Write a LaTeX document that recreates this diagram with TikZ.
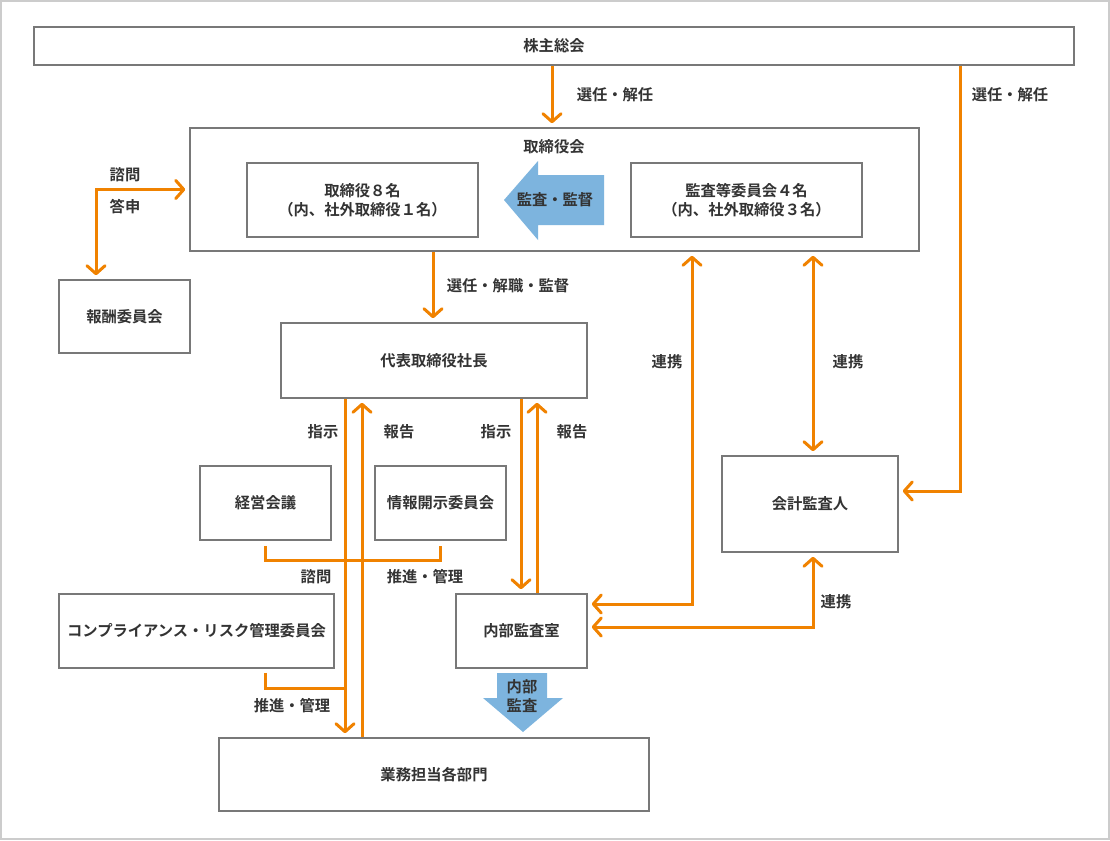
\documentclass[tikz,border=0pt]{standalone}
\usepackage{fontspec}
\setmainfont{Noto Sans CJK JP}[BoldFont={Noto Sans CJK JP Bold}]
\usetikzlibrary{arrows.meta, calc}

\definecolor{orgline}{RGB}{240,130,0}
\definecolor{bluearrow}{RGB}{125,180,222}
\definecolor{boxgray}{RGB}{120,120,120}
\definecolor{txtgray}{RGB}{51,51,51}
\definecolor{framegray}{RGB}{204,204,204}

\tikzset{
  box/.style={draw=boxgray, line width=1.5pt, fill=white, inner sep=0pt, align=center},
  line/.style={orgline, line width=3pt},
  arr/.style={line, -{Straight Barb[length=8pt,width=18pt,round]}, shorten >=4pt},
  dbl/.style={line, {Straight Barb[length=8pt,width=18pt,round]}-{Straight Barb[length=8pt,width=18pt,round]}, shorten >=4pt, shorten <=4pt},
  lbl/.style={text=txtgray, inner sep=0pt},
}

\begin{document}
\begin{tikzpicture}[x=1pt, y=-1pt, font=\fontsize{15.3}{19.5}\selectfont\bfseries, text=txtgray]
        \useasboundingbox (0,0) rectangle (1110,840);
        \draw[framegray, line width=2pt] (1,1) rectangle (1109,839);

        % columns of the connectors
        \coordinate (c96) at (96,0);
        \coordinate (c265) at (265,0);
        \coordinate (c345) at (345,0);
        \coordinate (c362) at (362,0);
        \coordinate (c433) at (433,0);
        \coordinate (c521) at (521,0);
        \coordinate (c537) at (537,0);
        \coordinate (c552) at (552,0);
        \coordinate (c692) at (692,0);
        \coordinate (c813) at (813,0);
        \coordinate (c960) at (960,0);

        % boxes
        \node[box, minimum width=1040pt, minimum height=38pt] (meeting) at (554,46) {株主総会};
        \node[box, minimum width=729pt, minimum height=123pt] (board) at (554.5,189.5) {};
        \node[lbl] (boardtitle) at (554,147) {取締役会};
        \node[box, minimum width=231pt, minimum height=74pt] (directors) at (362.5,200) {取締役８名\\（内、社外取締役１名）};
        \node[box, minimum width=231pt, minimum height=74pt] (audit) at (746.5,200) {監査等委員会４名\\（内、社外取締役３名）};
        \node[box, minimum width=131pt, minimum height=73pt] (reward) at (124.5,316.5) {報酬委員会};
        \node[box, minimum width=306pt, minimum height=75pt] (pres) at (434,360.5) {代表取締役社長};
        \node[box, minimum width=131pt, minimum height=74pt] (mgmt) at (265.5,503) {経営会議};
        \node[box, minimum width=131pt, minimum height=74pt] (disclose) at (440.5,503) {情報開示委員会};
        \node[box, minimum width=176pt, minimum height=96pt] (auditor) at (810,504) {会計監査人};
        \node[box, minimum width=275pt, minimum height=74pt] (risk) at (196.5,631) {コンプライアンス・リスク管理委員会};
        \node[box, minimum width=131pt, minimum height=74pt] (internal) at (521.5,631) {内部監査室};
        \node[box, minimum width=430pt, minimum height=73pt] (depts) at (434,774.5) {業務担当各部門};

        % blue arrows
        \fill[bluearrow] (504,200) -- (538,161) -- (538,175) -- (604,175) -- (604,225) -- (538,225) -- (538,240) -- cycle;
        \node[lbl] (supervise) at (555,200) {監査・監督};
        \fill[bluearrow] (497,673) -- (547,673) -- (547,698) -- (563,698) -- (523,732) -- (483,698) -- (497,698) -- cycle;
        \node[lbl, align=center] (inaudit) at (522,696) {内部\\監査};

        % orange connectors
        \draw[arr] (meeting.south -| c552) -- (board.north -| c552);
        \draw[arr] (meeting.south -| c960) |- ([yshift=13pt]auditor.east);
        \draw[dbl] (board.west) -| (reward.north -| c96);
        \draw[arr] (board.south -| c433) -- (pres.north -| c433);
        \draw[dbl] (board.south -| c692) |- ([yshift=27pt]internal.east);
        \draw[dbl] (board.south -| c813) -- (auditor.north -| c813);
        \draw[dbl] (auditor.south -| c813) |- ([yshift=4pt]internal.east);
        \draw[arr, shorten <=0pt] (pres.south -| c345) -- (depts.north -| c345);
        \draw[arr] (depts.north -| c362) -- (pres.south -| c362);
        \draw[arr] (pres.south -| c521) -- (internal.north -| c521);
        \draw[arr] (internal.north -| c537) -- (pres.south -| c537);
        \draw[line] ([yshift=-5pt]mgmt.south) -- ++(0,15) -| ([yshift=-5pt]disclose.south);
        \draw[line] ([yshift=-4pt]risk.south -| c265) |- ([yshift=-20pt]risk.south -| c345);

        % labels
        \node[lbl] (elect1) at (615,95) {選任・解任};
        \node[lbl] (elect2) at (1010,95) {選任・解任};
        \node[lbl] (consult1) at (125,175) {諮問};
        \node[lbl] (answer) at (125,207) {答申};
        \node[lbl] (elect3) at (508,286) {選任・解職・監督};
        \node[lbl] (link1) at (667,362) {連携};
        \node[lbl] (link2) at (848,362) {連携};
        \node[lbl] (link3) at (836,602) {連携};
        \node[lbl] (order1) at (323,432) {指示};
        \node[lbl] (report1) at (399,432) {報告};
        \node[lbl] (order2) at (496,432) {指示};
        \node[lbl] (report2) at (572,432) {報告};
        \node[lbl] (consult2) at (316,577) {諮問};
        \node[lbl] (promote1) at (425,577) {推進・管理};
        \node[lbl] (promote2) at (292,706) {推進・管理};
\end{tikzpicture}
\end{document}
